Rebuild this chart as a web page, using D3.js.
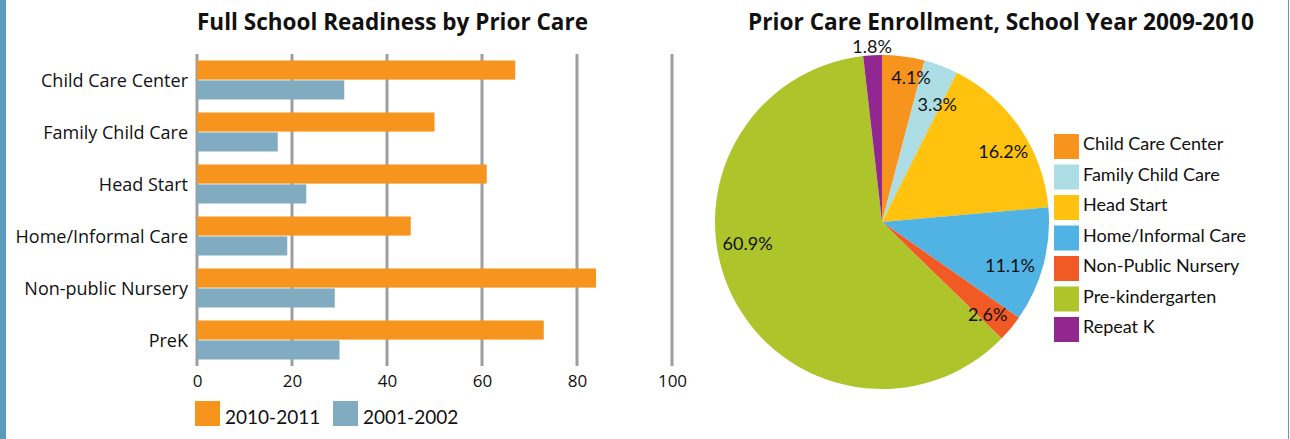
<!DOCTYPE html>
<html>
<head>
<meta charset="utf-8">
<script src="https://cdn.jsdelivr.net/npm/d3@7"></script>
<style>
  body { margin: 0; background: #fff; }
  svg { display: block; }
</style>
</head>
<body>
<div id="chart"></div>
<script>
// bar chart data
var barCategories = ['Child Care Center', 'Family Child Care', 'Head Start',
  'Home/Informal Care', 'Non-public Nursery', 'PreK'];
var barSeries = ['2010-2011', '2001-2002'];
var values2010 = [67, 50, 61, 45, 84, 73];
var values2001 = [31, 17, 23, 19, 29, 30];
var xTicks = [0, 20, 40, 60, 80, 100];

// pie chart data
var pieCategories = ['Child Care Center', 'Family Child Care', 'Head Start',
  'Home/Informal Care', 'Non-Public Nursery', 'Pre-kindergarten', 'Repeat K'];
var pieValues = [4.1, 3.3, 16.2, 11.1, 2.6, 60.9, 1.8];

var svgWidth = 1290;
var svgHeight = 439;

var svg = d3.select('#chart')
  .append('svg')
  .attr('width', svgWidth)
  .attr('height', svgHeight);

// page border stripes
svg.append('rect').attr('x', 0).attr('y', 0).attr('width', 6).attr('height', svgHeight).attr('fill', '#5b9bbf');
svg.append('rect').attr('x', 1288).attr('y', 0).attr('width', 1).attr('height', svgHeight).attr('fill', '#5b9bbf');

var leftFont = "'Open Sans', sans-serif";
var pieFont = "Lato, sans-serif";

// ---------- bar chart ----------
var barColors = d3.scaleOrdinal().domain(barSeries).range(['#f7941e', '#80abc1']);

var x = d3.scaleLinear().domain([0, 100]).range([197, 672]);
var y = d3.scaleBand().domain(barCategories).range([54, 366])
  .paddingInner(0.25).paddingOuter(0.125);
var ySub = d3.scaleBand().domain(barSeries).range([0, y.bandwidth()]).paddingInner(0.04);

var barRows = barCategories.map(function (c, i) {
  return { cat: c, vals: [{ s: barSeries[0], v: values2010[i] }, { s: barSeries[1], v: values2001[i] }] };
});

svg.append('text')
  .attr('x', 392.5).attr('y', 30)
  .attr('text-anchor', 'middle')
  .attr('font-family', leftFont)
  .attr('font-weight', 'bold')
  .attr('font-size', 23)
  .attr('textLength', 391)
  .attr('lengthAdjust', 'spacingAndGlyphs')
  .attr('fill', '#111')
  .text('Full School Readiness by Prior Care');

// gridlines
svg.append('g').selectAll('line')
  .data(xTicks)
  .enter()
  .append('line')
  .attr('x1', function (d) { return x(d); })
  .attr('x2', function (d) { return x(d); })
  .attr('y1', 54).attr('y2', 366)
  .attr('stroke', '#9d9ea2')
  .attr('stroke-width', 3);

var groups = svg.append('g').selectAll('g')
  .data(barRows)
  .enter()
  .append('g')
  .attr('transform', function (d) { return 'translate(0,' + y(d.cat) + ')'; });

groups.selectAll('rect')
  .data(function (d) { return d.vals; })
  .enter()
  .append('rect')
  .attr('x', x(0))
  .attr('y', function (d) { return ySub(d.s); })
  .attr('width', function (d) { return x(d.v) - x(0); })
  .attr('height', ySub.bandwidth())
  .attr('fill', function (d) { return barColors(d.s); });

// y labels
var leftAxis = d3.axisLeft(y).tickSize(0).tickPadding(8);
var yAxis = svg.append('g').attr('transform', 'translate(' + (x(0) - 1) + ',1)').call(leftAxis);
yAxis.select('.domain').remove();
yAxis.selectAll('text')
  .attr('font-family', leftFont)
  .attr('font-size', 18)
  .attr('fill', '#111');

// x labels
var bottomAxis = d3.axisBottom(x).tickValues(xTicks).tickSize(0).tickPadding(9);
var xAxis = svg.append('g').attr('transform', 'translate(0,366)').call(bottomAxis);
xAxis.select('.domain').remove();
xAxis.selectAll('text')
  .attr('font-family', leftFont)
  .attr('font-size', 17)
  .attr('fill', '#111');

// bar legend
var barLegend = svg.append('g').attr('transform', 'translate(195,401)');
var legendItems = barLegend.selectAll('g')
  .data(barSeries)
  .enter()
  .append('g')
  .attr('transform', function (d, i) { return 'translate(' + (i * 138) + ',0)'; });
legendItems.append('rect')
  .attr('width', 25).attr('height', 25)
  .attr('fill', function (d) { return barColors(d); });
legendItems.append('text')
  .attr('x', 30).attr('y', 23)
  .attr('font-family', pieFont)
  .attr('font-size', 19)
  .attr('fill', '#111')
  .text(function (d) { return d; });

// ---------- pie chart ----------
var pieColors = d3.scaleOrdinal().domain(pieCategories)
  .range(['#f7941e', '#acdde5', '#ffc20e', '#50b3e4', '#f15a24', '#adc42b', '#92278f']);

var radius = 167;
var pieGroup = svg.append('g').attr('transform', 'translate(882,222)');

svg.append('text')
  .attr('x', 1001).attr('y', 30)
  .attr('text-anchor', 'middle')
  .attr('font-family', leftFont)
  .attr('font-weight', 'bold')
  .attr('font-size', 23)
  .attr('textLength', 506)
  .attr('lengthAdjust', 'spacingAndGlyphs')
  .attr('fill', '#111')
  .text('Prior Care Enrollment, School Year 2009-2010');

var pie = d3.pie().sort(null).value(function (d) { return d.v; });
var pieData = pie(pieCategories.map(function (c, i) { return { cat: c, v: pieValues[i] }; }));
var arc = d3.arc().innerRadius(0).outerRadius(radius);

pieGroup.selectAll('path')
  .data(pieData)
  .enter()
  .append('path')
  .attr('d', arc)
  .attr('fill', function (d) { return pieColors(d.data.cat); });

// label placement tweaks (radius factor, angle shift in degrees)
var labelRadius = {
  'Child Care Center': 0.88, 'Family Child Care': 0.78, 'Head Start': 0.84,
  'Home/Informal Care': 0.81, 'Non-Public Nursery': 0.84, 'Pre-kindergarten': 0.815, 'Repeat K': 1.05
};
var labelShift = {
  'Child Care Center': 4, 'Family Child Care': 4.4, 'Head Start': 4,
  'Home/Informal Care': 4, 'Non-Public Nursery': 1.5, 'Pre-kindergarten': 17, 'Repeat K': 0
};

pieGroup.selectAll('text')
  .data(pieData)
  .enter()
  .append('text')
  .attr('transform', function (d) {
    var a = (d.startAngle + d.endAngle) / 2 + (labelShift[d.data.cat] || 0) * Math.PI / 180;
    var r = radius * (labelRadius[d.data.cat] || 0.82);
    return 'translate(' + (Math.sin(a) * r) + ',' + (-Math.cos(a) * r) + ')';
  })
  .attr('dy', '0.36em')
  .attr('text-anchor', 'middle')
  .attr('font-family', pieFont)
  .attr('font-size', 18)
  .attr('fill', '#111')
  .text(function (d) { return d.data.v.toFixed(1) + '%'; });

// pie legend
var pieLegend = svg.append('g').attr('transform', 'translate(1054,134)');
var pieItems = pieLegend.selectAll('g')
  .data(pieCategories)
  .enter()
  .append('g')
  .attr('transform', function (d, i) { return 'translate(0,' + (i * 30.5) + ')'; });
pieItems.append('rect')
  .attr('width', 25).attr('height', 25)
  .attr('fill', function (d) { return pieColors(d); });
pieItems.append('text')
  .attr('x', 29).attr('y', 16)
  .attr('font-family', pieFont)
  .attr('font-size', 18)
  .attr('fill', '#111')
  .text(function (d) { return d; });
</script>
</body>
</html>
